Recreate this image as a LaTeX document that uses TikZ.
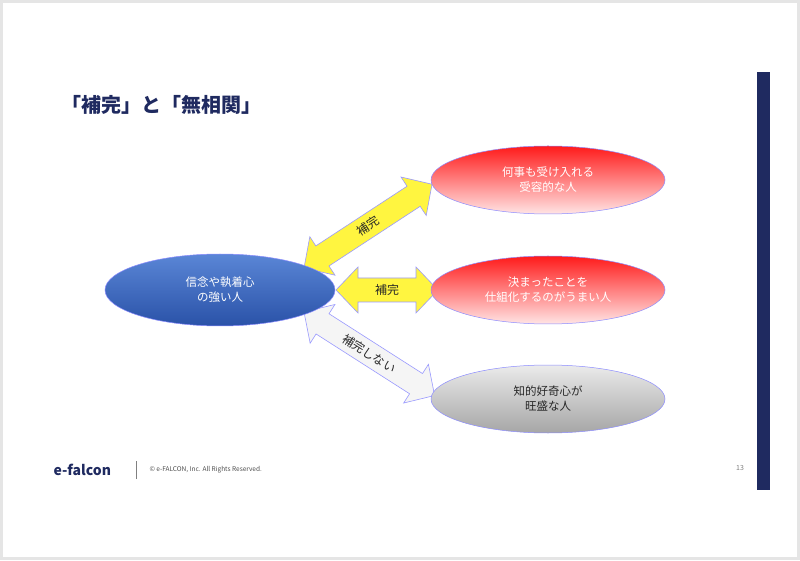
\documentclass[tikz,border=0pt]{standalone}
\usepackage{fontspec}
\setmainfont{Noto Sans CJK JP}
\usetikzlibrary{shapes.geometric}
\definecolor{navy}{HTML}{1F2A60}
\definecolor{blt}{HTML}{5A86D6}
\definecolor{bdk}{HTML}{2A52A8}
\tikzset{
 ell/.style={ellipse,draw=blue!45!white,line width=0.5pt,minimum width=234pt,minimum height=68pt,align=center,font=\fontsize{11.5}{15}\selectfont,text=white},
 arr/.style={draw=blue!40!white,line width=0.6pt,line join=miter},
 lbl/.style={font=\fontsize{12}{14}\selectfont,text=black!85}
}
\newcommand{\dblarrow}[5]{% point, angle, length, fill, label
 \begin{scope}[shift={#1},rotate=#2]
 \path[arr,fill=#4] (0,0) -- (22,23) -- (22,12) -- (#3-22,12) -- (#3-22,23) -- (#3,0) -- (#3-22,-23) -- (#3-22,-12) -- (22,-12) -- (22,-23) -- cycle;
 \end{scope}
 \path #1 ++(#2:#3/2) node[lbl,rotate=#2] {#5};}
\begin{document}
\begin{tikzpicture}[x=1pt,y=1pt]
\fill[black!10] (0,0) rectangle (800,560);
\fill[white] (3,3) rectangle (797,557);
\fill[navy] (757,70) rectangle (770,488);
\node[anchor=west,text=navy,font=\bfseries\fontsize{20}{24}\selectfont] (title) at (58,455) {「補完」と「無相関」};
% arrows
\dblarrow{(304,292)}{33.2}{153}{yellow!75!white}{補完}
\dblarrow{(336,270)}{0}{102}{yellow!75!white}{補完}
\dblarrow{(304,248)}{-32.6}{155}{black!4}{補完しない}
% ellipses
\node[ell,minimum width=230pt,minimum height=72pt,top color=blt,bottom color=bdk] (a) at (220,270) {信念や執着心\\の強い人};
\node[ell,top color=red!90!white,bottom color=red!10!white] (b) at (548,380) {何事も受け入れる\\受容的な人};
\node[ell,top color=red!90!white,bottom color=red!10!white] (c) at (548,270) {決まったことを\\仕組化するのがうまい人};
\node[ell,top color=black!8,bottom color=black!35,text=black!85] (d) at (548,161) {知的好奇心が\\旺盛な人};
% footer
\node[anchor=west,text=navy,font=\bfseries\fontsize{14}{16}\selectfont] (logo) at (50,90) {e-falcon};
\draw[black!50,line width=0.8pt] (136,81) -- (136,99);
\node[anchor=west,text=black!70,font=\fontsize{6.5}{8}\selectfont] (copy) at (146,90) {© e-FALCON, Inc. All Rights Reserved.};
\node[text=black!50,font=\fontsize{7}{8}\selectfont] (pg) at (740,92) {13};
\end{tikzpicture}
\end{document}
